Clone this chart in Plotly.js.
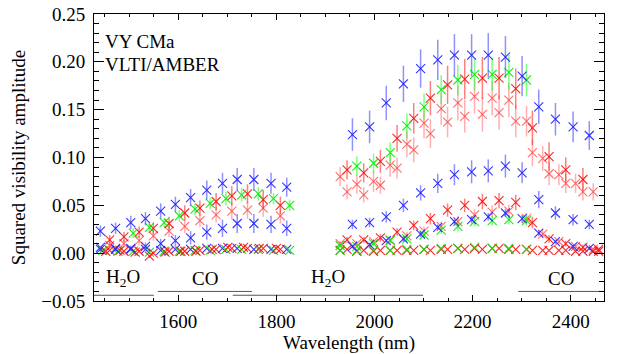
<!DOCTYPE html>
<html>
<head>
<meta charset="utf-8">
<script src="https://cdn.plot.ly/plotly-3.0.1.min.js"></script>
<style>
  html, body { margin: 0; padding: 0; background: #fff; }
  #chart { width: 629px; height: 354px; }
</style>
</head>
<body>
<div id="chart"></div>
<script>
// H band (izquierda)
const hBlueX  = [1441, 1472, 1503, 1533, 1564, 1594, 1625, 1658, 1690, 1720, 1754, 1789, 1821];
const hB1     = [0.023, 0.026, 0.032, 0.036, 0.044, 0.051, 0.058, 0.066, 0.073, 0.077, 0.077, 0.073, 0.069];
const hB1err  = [0.006, 0.006, 0.007, 0.007, 0.008, 0.008, 0.009, 0.010, 0.011, 0.012, 0.012, 0.011, 0.010];
const hB2     = [0.004, 0.004, 0.005, 0.007, 0.010, 0.013, 0.016, 0.022, 0.026, 0.031, 0.031, 0.030, 0.026];
const hB2err  = [0.003, 0.003, 0.003, 0.004, 0.005, 0.006, 0.007, 0.008, 0.009, 0.010, 0.010, 0.009, 0.008];
const hB3     = [0.006, 0.005, 0.004, 0.004, 0.003, 0.004, 0.004, 0.005, 0.005, 0.005, 0.004, 0.004, 0.004];

const hGreenX = [1446, 1477, 1508, 1541, 1571, 1602, 1634, 1665, 1697, 1729, 1763, 1794, 1827];
const hG1     = [0.021, 0.027, 0.032, 0.039, 0.046, 0.052, 0.057, 0.061, 0.062, 0.057, 0.050];
const hG1err  = [0.005, 0.005, 0.005, 0.006, 0.006, 0.006, 0.007, 0.007, 0.007, 0.006, 0.006];
const hG2     = [0.003, 0.002, 0.002, 0.001, 0.002, 0.002, 0.003, 0.003, 0.004, 0.004, 0.004, 0.003, 0.003];

const hRedX   = [1460, 1489, 1520, 1549, 1581, 1613, 1644, 1677, 1709, 1741, 1773, 1808];
const hR1     = [0.014, 0.017, 0.022, 0.026, 0.031, 0.042, 0.047, 0.054, 0.060, 0.062, 0.056, 0.050];
const hR1err  = [0.005, 0.005, 0.006, 0.006, 0.007, 0.008, 0.008, 0.009, 0.010, 0.010, 0.010, 0.009];
const hR2     = [0.008, 0.010, 0.013, 0.018, 0.023, 0.028, 0.034, 0.040, 0.044, 0.045, 0.047, 0.039];
const hR2err  = [0.004, 0.004, 0.005, 0.005, 0.006, 0.007, 0.007, 0.008, 0.009, 0.009, 0.009, 0.008];
const hR3     = [0.003, 0.002, 0.002, 0.000, 0.002, 0.002, 0.003, 0.004, 0.005, 0.005, 0.005, 0.004];
const hRedX2  = [1452, 1481, 1512, 1541, 1573, 1605, 1636, 1669, 1701, 1733, 1765, 1800];
const hR4     = [0.002, 0.003, 0.001, -0.003, 0.001, 0.002, 0.002, 0.004, 0.006, 0.006, 0.005, 0.005];

// K band (derecha)
const kBlueX  = [1955, 1990, 2024, 2059, 2094, 2129, 2163, 2198, 2232, 2267, 2301, 2335, 2369, 2405, 2438];
const kB1     = [0.124, 0.132, 0.157, 0.177, 0.193, 0.202, 0.207, 0.207, 0.207, 0.205, 0.185, 0.153, 0.140, 0.132, 0.123];
const kB1err  = [0.017, 0.017, 0.018, 0.019, 0.020, 0.021, 0.022, 0.022, 0.023, 0.022, 0.021, 0.018, 0.017, 0.016, 0.015];
const kB2     = [0.030, 0.032, 0.038, 0.050, 0.063, 0.073, 0.082, 0.085, 0.086, 0.091, 0.084, 0.056, 0.042, 0.035, 0.030];
const kB2err  = [0.005, 0.005, 0.006, 0.007, 0.008, 0.010, 0.011, 0.012, 0.012, 0.012, 0.011, 0.009, 0.007, 0.006, 0.005];
const kB3     = [0.007, 0.009, 0.013, 0.015, 0.020, 0.027, 0.033, 0.035, 0.038, 0.042, 0.036, 0.021, 0.012, 0.007, 0.005];
const kB3err  = [0.002, 0.002, 0.002, 0.003, 0.003, 0.003, 0.004, 0.004, 0.004, 0.004, 0.004, 0.003, 0.002, 0.002, 0.002];

const kRedXa  = [1944, 1978, 2012, 2046, 2080, 2114, 2149, 2184, 2220, 2254, 2288, 2322, 2356, 2390, 2425, 2457];
const kR1     = [0.087, 0.084, 0.096, 0.120, 0.141, 0.162, 0.176, 0.182, 0.183, 0.183, 0.172, 0.131, 0.101, 0.087, 0.077];
const kR1err  = [0.010, 0.010, 0.012, 0.014, 0.016, 0.018, 0.020, 0.021, 0.022, 0.022, 0.021, 0.018, 0.015, 0.013, 0.012];
const kR3     = [0.064, 0.061, 0.071, 0.089, 0.108, 0.125, 0.137, 0.143, 0.145, 0.147, 0.138, 0.105, 0.083, 0.073, 0.064];
const kR3err  = [0.008, 0.008, 0.009, 0.011, 0.013, 0.015, 0.016, 0.017, 0.018, 0.018, 0.017, 0.014, 0.012, 0.010, 0.009];
const kR4     = [0.014, 0.014, 0.016, 0.022, 0.029, 0.036, 0.045, 0.050, 0.054, 0.055, 0.053, 0.032, 0.015, 0.010, 0.006, 0.004];
const kR4err  = [0.003, 0.003, 0.004, 0.004, 0.005, 0.006, 0.007, 0.007, 0.008, 0.008, 0.008, 0.006, 0.004, 0.003, 0.003, 0.002];
const kR6     = [0.004, 0.003, 0.003, 0.003, 0.003, 0.003, 0.004, 0.004, 0.004, 0.005, 0.004, 0.003, 0.003, 0.003, 0.002, 0.002];

const kRedXb  = [1930, 1964, 1998, 2032, 2066, 2101, 2136, 2170, 2204, 2240, 2274, 2310, 2343, 2376, 2410, 2446];
const kR2     = [0.080, 0.072, 0.075, 0.092, 0.114, 0.136, 0.151, 0.157, 0.164, 0.162, 0.160, 0.138, 0.099, 0.082, 0.073, 0.064];
const kR2err  = [0.010, 0.010, 0.011, 0.012, 0.014, 0.016, 0.017, 0.018, 0.018, 0.018, 0.018, 0.016, 0.013, 0.011, 0.010, 0.009];
const kR5     = [0.010, 0.010, 0.012, 0.014, 0.018, 0.023, 0.028, 0.033, 0.040, 0.043, 0.044, 0.036, 0.020, 0.012, 0.007, 0.004];
const kR5err  = [0.003, 0.003, 0.003, 0.004, 0.004, 0.005, 0.005, 0.006, 0.006, 0.007, 0.007, 0.006, 0.004, 0.003, 0.002, 0.002];
const kR7     = [0.003, 0.002, 0.002, 0.003, 0.003, 0.004, 0.004, 0.005, 0.005, 0.005, 0.004, 0.004, 0.003, 0.003, 0.002, 0.002];

const kGreenX = [1930, 1964, 1998, 2032, 2066, 2101, 2136, 2170, 2204, 2240, 2274, 2310];
const kG1     = [0.091, 0.094, 0.105, 0.133, 0.153, 0.171, 0.181, 0.187, 0.187, 0.189, 0.181];
const kG1err  = [0.010, 0.010, 0.011, 0.013, 0.014, 0.015, 0.016, 0.017, 0.017, 0.018, 0.017];
const kG2     = [0.008, 0.007, 0.010, 0.013, 0.015, 0.019, 0.024, 0.028, 0.033, 0.034, 0.035, 0.034];
const kG2err  = [0.002, 0.002, 0.003, 0.003, 0.003, 0.004, 0.004, 0.005, 0.005, 0.005, 0.005, 0.005];
const kG3     = [0.003, 0.003, 0.003, 0.003, 0.004, 0.004, 0.005, 0.005, 0.006, 0.005, 0.005, 0.004];

// bandas de absorción
const bandNames  = ['H<sub>2</sub>O', 'CO', 'H<sub>2</sub>O', 'CO'];
const bandStart  = [1428, 1558, 1711, 2293];
const bandEnd    = [1550, 1750, 2099, 2468];
const bandLineY  = [-0.044, -0.040, -0.044, -0.040];
const bandLabelX = [1488, 1654, 1905, 2381];
const bandLabelY = -0.026;

const FONT = 'Liberation Serif';
const txt = () => ({ family: FONT, size: 19, color: '#000' });

const BLUE  = { mk: 'rgba(30,30,255,0.9)',  bar: 'rgba(70,70,255,0.6)' };
const GREEN = { mk: 'rgba(0,235,0,0.9)',    bar: 'rgba(40,255,40,0.6)' };
const RED   = { mk: 'rgba(255,0,0,0.85)',   bar: 'rgba(255,40,40,0.6)' };
const PINK  = { mk: 'rgba(255,50,50,0.7)',  bar: 'rgba(255,110,110,0.55)' };

const serie = (x, y, err, col) => {
    const t = {
        x: x.slice(0, y.length),
        y: y,
        type: 'scatter',
        mode: 'markers',
        hoverinfo: 'skip',
        marker: { symbol: 'x-thin', size: 9, line: { width: 1.1, color: col.mk } }
    };
    if (err) t.error_y = { type: 'data', array: err, visible: true, width: 0, thickness: 1.5, color: col.bar };
    return t;
};

const data = [
    // casi cero
    serie(hBlueX, hB3, null, BLUE),
    serie(hGreenX, hG2, null, GREEN),
    serie(hRedX, hR3, null, RED),
    serie(hRedX2, hR4, null, RED),
    serie(kRedXa, kR6, null, RED),
    serie(kRedXb, kR7, null, RED),
    serie(kGreenX, kG3, null, GREEN),
    // H
    serie(hBlueX, hB2, hB2err, BLUE),
    serie(hRedX, hR2, hR2err, PINK),
    serie(hRedX, hR1, hR1err, RED),
    serie(hGreenX.slice(2), hG1, hG1err, GREEN),
    serie(hBlueX, hB1, hB1err, BLUE),
    // K
    serie(kRedXb, kR5, kR5err, PINK),
    serie(kGreenX, kG2, kG2err, GREEN),
    serie(kBlueX, kB3, kB3err, BLUE),
    serie(kRedXa, kR4, kR4err, RED),
    serie(kBlueX, kB2, kB2err, BLUE),
    serie(kRedXa, kR3, kR3err, PINK),
    serie(kRedXb, kR2, kR2err, PINK),
    serie(kRedXa, kR1, kR1err, RED),
    serie(kGreenX.slice(1), kG1, kG1err, GREEN),
    serie(kBlueX, kB1, kB1err, BLUE)
];

// líneas de las bandas
bandStart.forEach((s, i) => {
    data.push({
        x: [s, bandEnd[i]], y: [bandLineY[i], bandLineY[i]],
        type: 'scatter', mode: 'lines', hoverinfo: 'skip',
        line: { color: '#555', width: 1 }
    });
});

const annotations = bandNames.map((n, i) => ({
    x: bandLabelX[i], y: bandLabelY, xref: 'x', yref: 'y',
    text: n, showarrow: false, xanchor: 'center', yanchor: 'middle',
    font: txt()
}));
annotations.push(
    { x: 1446, y: 0.2215, xref: 'x', yref: 'y', text: 'VY CMa', showarrow: false,
      xanchor: 'left', yanchor: 'middle', font: txt() },
    { x: 1446, y: 0.197, xref: 'x', yref: 'y', text: 'VLTI/AMBER', showarrow: false,
      xanchor: 'left', yanchor: 'middle', font: txt() }
);

const layout = {
    width: 629, height: 354,
    margin: { l: 94, r: 25, t: 14, b: 53 },
    paper_bgcolor: '#fff', plot_bgcolor: '#fff',
    showlegend: false,
    font: txt(),
    xaxis: {
        showline: true, linecolor: '#000', linewidth: 1, mirror: 'ticks',
        ticks: 'inside', tickcolor: '#000', tickwidth: 1,
        showgrid: false, zeroline: false,
        tickfont: txt(),
        range: [1428, 2468], tick0: 0, dtick: 200, ticklen: 6,
        minor: { dtick: 50, ticks: 'inside', ticklen: 3, tickcolor: '#000', tickwidth: 1 },
        ticklabelstandoff: 3,
        title: { text: 'Wavelength (nm)', font: txt(), standoff: 7 }
    },
    yaxis: {
        showline: true, linecolor: '#000', linewidth: 1, mirror: 'ticks',
        ticks: 'inside', tickcolor: '#000', tickwidth: 1,
        showgrid: false, zeroline: false,
        tickfont: txt(),
        range: [-0.05, 0.25], tick0: 0, dtick: 0.05, tickformat: '.2f', ticklen: 10,
        minor: { dtick: 0.01, ticks: 'inside', ticklen: 5, tickcolor: '#000', tickwidth: 1 },
        ticklabelstandoff: 4,
        title: { text: 'Squared visibility amplitude', font: txt(), standoff: 10 }
    },
    annotations: annotations
};

Plotly.newPlot('chart', data, layout, { staticPlot: true, displayModeBar: false });
</script>
</body>
</html>
